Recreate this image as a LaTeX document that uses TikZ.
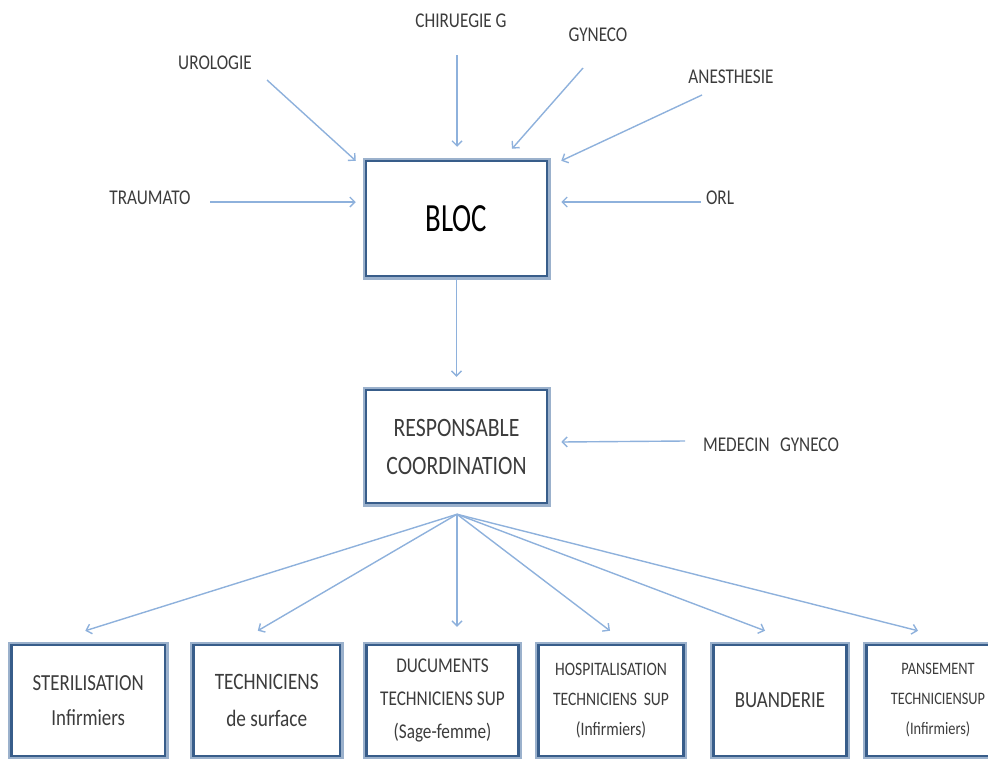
\documentclass[tikz,border=0pt]{standalone}
\usepackage{fontspec}
\setmainfont[FakeStretch=0.82]{Carlito}
\newfontfamily\blocfont[FakeStretch=0.72]{Carlito}
\usetikzlibrary{arrows.meta}
\definecolor{boxdark}{HTML}{385D8A}
\definecolor{boxlight}{HTML}{9BB1CC}
\definecolor{arrowblue}{HTML}{8EB1DC}
\definecolor{txt}{HTML}{3C3C3C}
\begin{document}
\begin{tikzpicture}[x=1pt,y=-1pt,
  box/.style={preaction={draw=boxlight,line width=7pt},fill=white,draw=boxdark,line width=2.5pt,
    align=center,text=txt,inner sep=0pt,minimum height=111pt},
  lab/.style={text=txt,inner sep=0pt,font=\fontsize{21}{24}\selectfont},
  arr/.style={draw=arrowblue,line width=1.4pt,-{Straight Barb[length=5pt,width=10pt]}}]
\useasboundingbox (0,0) rectangle (988,758);
% main boxes
\node[box,minimum width=181pt,minimum height=115pt,text=black,font=\fontsize{40}{40}\blocfont] (bloc) at (456.5,218.5) {BLOC};
\node[box,minimum width=181pt,minimum height=113pt,font=\fontsize{26.5}{38}\selectfont] (resp) at (456.5,446.5) {RESPONSABLE\\COORDINATION};
% bottom boxes
\node[box,minimum width=153.5pt,font=\fontsize{23}{35}\selectfont] (b1) at (88.25,700.5) {STERILISATION\\Infirmiers};
\node[box,minimum width=146.5pt,font=\fontsize{23.5}{37}\selectfont] (b2) at (266.75,700.5) {TECHNICIENS\\de surface};
\node[box,minimum width=152pt,font=\fontsize{21}{33}\selectfont] (b3) at (442.5,700.5) {DUCUMENTS\\TECHNICIENS SUP\\(Sage-femme)};
\node[box,minimum width=145pt,font=\fontsize{19}{30}\selectfont] (b4) at (611,700.5) {HOSPITALISATION\\TECHNICIENS\, SUP\\(Infirmiers)};
\node[box,minimum width=133pt,font=\fontsize{23}{30}\selectfont] (b5) at (780,700.5) {BUANDERIE};
\node[box,minimum width=143pt,font=\fontsize{17.5}{30}\selectfont] (b6) at (938,700.5) {PANSEMENT\\TECHNICIENSUP\\(Infirmiers)};
% labels
\node[lab] (chir) at (461,21) {CHIRUEGIE G};
\node[lab] (uro) at (215,63) {UROLOGIE};
\node[lab] (gyn) at (598,35) {GYNECO};
\node[lab] (anes) at (731,77) {ANESTHESIE};
\node[lab] (trau) at (150,198) {TRAUMATO};
\node[lab] (orl) at (720,198) {ORL};
\node[lab] (med) at (771,445) {MEDECIN\enspace GYNECO};
% arrows into BLOC
\draw[arr] ([shift={(-4,34)}]chir.center) -- ([shift={(0.5,-13)}]bloc.north);
\draw[arr] ([shift={(52,17)}]uro.center) -- ([shift={(-9,1)}]bloc.north west);
\draw[arr] ([shift={(-15,33)}]gyn.center) -- ([shift={(55.5,-11)}]bloc.north);
\draw[arr] ([shift={(-29,18)}]anes.center) -- ([shift={(13,1)}]bloc.north east);
\draw[arr] ([shift={(60,4)}]trau.center) -- ([shift={(-9,-16.5)}]bloc.west);
\draw[arr] ([shift={(-19,4)}]orl.center) -- ([shift={(13,-16.5)}]bloc.east);
\draw[arr] (bloc.south) -- ([shift={(0,-12)}]resp.north);
\draw[arr] ([shift={(-86,-4)}]med.center) -- ([shift={(13,-4.5)}]resp.east);
% fan out
\coordinate (hub) at ([shift={(0.5,10)}]resp.south);
\draw[arr] (hub) -- ([shift={(-3,-13)}]b1.north);
\draw[arr] (hub) -- ([shift={(-9,-13)}]b2.north);
\draw[arr] (hub) -- ([shift={(14.5,-17)}]b3.north);
\draw[arr] (hub) -- ([shift={(-1,-13)}]b4.north);
\draw[arr] (hub) -- ([shift={(-15,-13)}]b5.north);
\draw[arr] (hub) -- ([shift={(-20,-13)}]b6.north);
\end{tikzpicture}
\end{document}
